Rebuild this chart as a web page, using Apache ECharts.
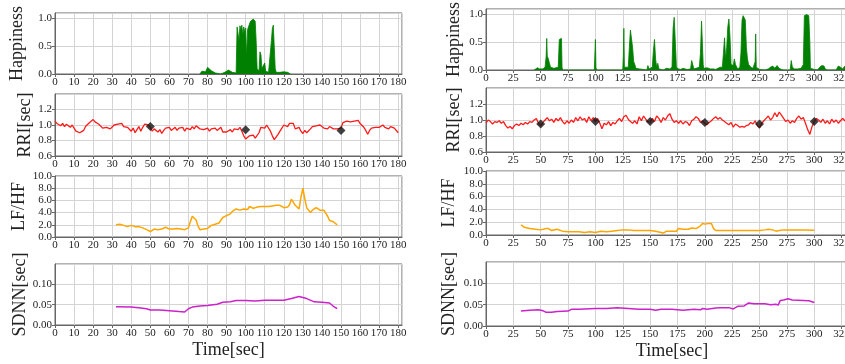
<!DOCTYPE html>
<html>
<head>
<meta charset="utf-8">
<script src="https://cdn.jsdelivr.net/npm/echarts@6/dist/echarts.min.js"></script>
<style>
html, body { margin: 0; padding: 0; background: #fff; overflow: hidden; }
/* the right column runs past the window edge, as in the source figure */
#main { width: 862px; height: 364px; }
</style>
</head>
<body>
<div id="main"></div>
<script>
// ---- data: left session (0-180 s) ----
const happinessLeft = [
  [76, 0], [76.5, 0.03], [77, 0.05], [78, 0.06], [79, 0.04], [80, 0.12], [80.5, 0.15], [81, 0.12],
  [82, 0.06], [83, 0.03], [84, 0.02], [85, 0], [87, 0], [87.5, 0.03], [88, 0.02], [89, 0.03],
  [90, 0.04], [91, 0.07], [92, 0.06], [93, 0.03], [94, 0.02], [95, 0.02], [95.5, 0.85], [96, 0.85],
  [96.5, 0.6], [97, 0.87], [97.5, 0.8], [98, 0.88], [98.5, 0.7], [99, 0.85], [99.5, 0.75], [100, 0.83],
  [100.5, 0.3], [101, 0.8], [101.5, 0.85], [102, 0.9], [102.5, 0.95], [103, 0.97], [103.5, 0.98],
  [104, 0.99], [104.5, 0.98], [105, 0.95], [105.5, 0.6], [106, 0.1], [107, 0.05], [107.5, 0.4],
  [108, 0.35], [108.5, 0.1], [109, 0.1], [110, 0.2], [110.5, 0.05], [111, 0.03], [112, 0.03],
  [113, 0.04], [113.5, 0.6], [114, 0.82], [114.5, 0.88], [115, 0.85], [115.5, 0.1], [116, 0.03],
  [117, 0.02], [118, 0.03], [119, 0.02], [120, 0.04], [121, 0.05], [122, 0.03], [123, 0.02], [123.5, 0]
];
// one value per second, t = 0..180
const rriLeft = [
  1.05, 1.02, 1.03, 0.99, 1.02, 0.98, 1.01, 1.02, 0.97, 1.00,
  0.96, 0.92, 0.94, 0.90, 0.88, 0.93, 0.98, 1.00, 1.03, 1.05,
  1.07, 1.04, 1.03, 1.01, 0.99, 0.96, 0.94, 0.97, 0.99, 0.95,
  0.97, 1.00, 0.98, 1.01, 0.99, 1.02, 0.98, 1.00, 0.97, 0.95,
  0.92, 0.96, 0.90, 0.94, 0.98, 0.92, 0.97, 1.01, 0.99, 1.00,
  0.97, 0.92, 0.95, 0.93, 0.91, 0.94, 0.89, 0.93, 0.96, 0.94,
  0.97, 0.93, 0.95, 0.97, 0.93, 0.96, 0.94, 0.97, 0.92, 0.96,
  0.97, 0.94, 0.98, 0.95, 0.99, 0.97, 0.95, 0.97, 0.94, 0.93,
  0.96, 0.92, 0.95, 0.93, 0.96, 0.93, 0.95, 0.97, 0.91, 0.93,
  0.91, 0.92, 0.94, 0.91, 0.95, 0.97, 0.94, 0.97, 0.92, 0.86,
  0.82, 0.84, 0.86, 0.84, 0.87, 0.83, 0.85, 0.90, 0.97, 0.99,
  0.96, 1.00, 0.98, 0.92, 0.86, 0.81, 0.82, 0.88, 0.92, 0.96,
  1.00, 1.01, 0.98, 1.02, 1.03, 1.02, 0.95, 0.93, 0.97, 0.92,
  0.89, 0.93, 0.90, 0.91, 0.95, 0.98, 0.96, 0.99, 0.97, 1.00,
  0.98, 0.96, 0.97, 0.95, 0.98, 0.96, 0.95, 0.97, 0.95, 0.94,
  0.96, 1.03, 1.02, 1.05, 1.06, 1.04, 1.06, 1.05, 1.03, 1.06,
  1.02, 1.01, 0.97, 0.93, 0.88, 0.93, 0.96, 0.94, 0.97, 0.98,
  0.97, 0.99, 1.00, 0.97, 0.99, 0.95, 0.98, 0.99, 0.96, 0.97,
  0.90
];
const markersLeft = [[50, 0.98], [100, 0.94], [150, 0.93]];
// one value per second, t = 32..148
const lfhfLeftStart = 32;
const lfhfLeft = [
  2.0, 2.3, 2.1, 1.9, 1.9, 2.0, 1.7, 1.8, 1.9, 1.8,
  1.7, 1.8, 1.7, 1.7, 1.5, 1.4, 1.2, 1.0, 0.9, 1.1,
  1.3, 1.3, 1.2, 1.3, 1.3, 1.4, 1.6, 1.6, 1.3, 1.2,
  1.3, 1.5, 1.4, 1.4, 1.3, 1.1, 1.2, 1.4, 1.5, 2.5,
  3.4, 3.5, 2.8, 1.8, 1.2, 1.1, 1.3, 1.3, 1.4, 1.6,
  1.9, 2.0, 2.1, 2.1, 2.3, 2.5, 3.2, 3.5, 3.5, 3.6,
  3.8, 4.2, 4.2, 4.6, 4.6, 4.4, 4.3, 4.6, 4.5, 4.5,
  5.0, 4.7, 4.7, 4.9, 4.9, 4.8, 5.0, 5.0, 5.0, 5.1,
  5.0, 4.9, 5.1, 5.2, 5.2, 5.3, 5.2, 5.0, 4.8, 4.6,
  4.9, 5.3, 6.2, 6.0, 5.2, 5.1, 4.6, 6.5, 8.0, 6.3,
  4.8, 4.6, 4.0, 4.4, 4.4, 4.8, 5.0, 4.4, 4.4, 4.4,
  4.3, 3.4, 2.7, 2.8, 2.5, 2.2, 2.0
];
const sdnnLeft = [
  [32, 0.045], [40, 0.044], [45, 0.042], [48, 0.040], [50, 0.037], [55, 0.037], [60, 0.035],
  [65, 0.033], [68, 0.032], [70, 0.040], [72, 0.044], [76, 0.047], [80, 0.048], [85, 0.051],
  [88, 0.056], [92, 0.057], [95, 0.060], [100, 0.060], [105, 0.059], [110, 0.061], [115, 0.061],
  [120, 0.061], [124, 0.065], [128, 0.070], [132, 0.065], [136, 0.057], [140, 0.056],
  [144, 0.054], [146, 0.046], [148, 0.040]
];

// ---- data: right session (0-330 s) ----
const happinessRight = [
  [44, 0], [45, 0.03], [47, 0.04], [49, 0.02], [50, 0.03], [52, 0.02], [53, 0], [54, 0.05],
  [55, 0.25], [55.5, 0.57], [56, 0.25], [57, 0.2], [58, 0.12], [59, 0.05], [60, 0.03], [62, 0.03],
  [64, 0.04], [66, 0.05], [67, 0.55], [68, 0.58], [69, 0.57], [69.5, 0.05], [70, 0], [99, 0],
  [100, 0.55], [100.5, 0.05], [101, 0], [125, 0], [125.5, 0.25], [126, 0.75], [126.5, 0.05],
  [127, 0.03], [130, 0.05], [131, 0.4], [132, 0.72], [133, 0.7], [134, 0.4], [135, 0.15],
  [136, 0.1], [137, 0.03], [138, 0.02], [140, 0.02], [141, 0], [147, 0], [148, 0.08], [149, 0.02],
  [150, 0.02], [152, 0.05], [153, 0.35], [154, 0.55], [155, 0.2], [156, 0.05], [157, 0.12],
  [158, 0.02], [159, 0], [162, 0], [163, 0.02], [165, 0.03], [168, 0.02], [170, 0.05], [171, 0.75],
  [172, 0.95], [173, 0.97], [173.5, 0.3], [174, 0.05], [176, 0.02], [178, 0.01], [180, 0.03],
  [182, 0.02], [184, 0.01], [187, 0.02], [188, 0.17], [189, 0.15], [190, 0.02], [192, 0.03],
  [195, 0.05], [196, 0.3], [197, 0.88], [198, 0.85], [198.5, 0.1], [199, 0.03], [202, 0.04],
  [205, 0.02], [208, 0.02], [210, 0.01], [212, 0.03], [214, 0.05], [216, 0.05], [217, 0.3],
  [218, 0.58], [219, 0.2], [220, 0.4], [221, 0.78], [222, 0.92], [223, 0.6], [224, 0.1],
  [226, 0.08], [227, 0.2], [228, 0.1], [230, 0.02], [232, 0.05], [233, 0.3], [234, 0.9],
  [235, 0.98], [236, 0.95], [237, 0.9], [238, 0.4], [239, 0.2], [240, 0.1], [242, 0.05],
  [244, 0.03], [246, 0.15], [246.5, 0.65], [247, 0.05], [248, 0.02], [250, 0.01], [255, 0],
  [258, 0.02], [260, 0.05], [262, 0.07], [264, 0.03], [266, 0.08], [268, 0.03], [270, 0.01],
  [272, 0], [278, 0], [279, 0.17], [280, 0.05], [282, 0.02], [285, 0.02], [288, 0.03], [290, 0.1],
  [291, 0.98], [292, 1.0], [293, 1.0], [294, 0.99], [295, 0.98], [296, 0.5], [296.5, 0.03],
  [298, 0.02], [300, 0.01], [303, 0], [305, 0.05], [307, 0.08], [309, 0.07], [310, 0.02],
  [312, 0], [320, 0], [322, 0.07], [324, 0.05], [326, 0.02], [328, 0.07], [330, 0.03]
];
// one value every 2 s, t = 0..330
const rriRight = [
  0.96, 1.00, 0.98, 0.95, 0.98, 0.97, 0.99, 0.96, 0.98, 0.93,
  0.90, 0.92, 0.89, 0.93, 0.95, 0.93, 0.96, 0.94, 0.97, 0.95,
  0.98, 0.97, 1.00, 1.02, 0.96, 0.93, 0.97, 1.00, 1.03, 0.99,
  1.01, 0.97, 1.02, 0.99, 1.03, 0.98, 0.95, 0.99, 0.96, 1.00,
  0.97, 1.03, 0.99, 1.04, 1.00, 1.02, 0.97, 1.04, 0.99, 1.03,
  0.98, 1.02, 0.96, 0.89, 0.96, 0.94, 0.98, 0.93, 0.97, 0.95,
  0.99, 1.02, 0.98, 1.04, 1.06, 1.01, 0.98, 0.96, 0.99, 0.95,
  1.04, 0.99, 1.05, 1.01, 0.98, 0.97, 1.02, 0.98, 1.05, 1.02,
  0.97, 1.03, 1.00, 1.05, 1.08, 1.01, 0.97, 0.99, 0.96, 0.99,
  0.95, 0.98, 0.97, 0.93, 0.99, 1.01, 1.04, 1.02, 0.97, 0.99,
  0.96, 0.94, 0.97, 0.99, 1.02, 1.04, 1.01, 1.03, 1.00, 0.98,
  0.96, 0.94, 0.97, 0.91, 0.95, 0.93, 0.91, 0.92, 0.91, 0.93,
  0.94, 0.97, 0.95, 0.99, 0.93, 0.90, 0.96, 0.99, 1.02, 1.05,
  1.00, 1.03, 1.09, 1.04, 1.10, 1.06, 1.02, 0.98, 1.00, 0.96,
  0.99, 0.97, 1.02, 1.05, 1.01, 1.03, 0.96, 0.88, 0.82, 0.92,
  0.98, 1.02, 1.00, 0.97, 1.01, 0.96, 0.99, 0.95, 1.01, 0.97,
  1.00, 0.96, 0.99, 1.02, 0.99, 0.97
];
const markersRight = [[50, 0.95], [100, 0.98], [150, 0.98], [200, 0.97], [250, 0.95], [300, 0.98]];
const lfhfRight = [
  [32, 1.6], [33, 1.3], [35, 1.2], [40, 1.0], [45, 0.9], [50, 0.8], [55, 1.0], [57, 1.0], [60, 0.7],
  [65, 0.9], [70, 0.6], [75, 0.5], [80, 0.5], [85, 0.5], [90, 0.4], [95, 0.5], [100, 0.4],
  [105, 0.6], [110, 0.5], [115, 0.6], [120, 0.7], [125, 0.8], [130, 0.8], [135, 0.7], [140, 0.7],
  [145, 0.7], [150, 0.7], [155, 0.6], [160, 0.4], [162, 0.3], [165, 0.6], [170, 0.6], [174, 0.6],
  [176, 1.0], [180, 0.9], [185, 0.9], [188, 1.1], [192, 1.0], [195, 1.3], [198, 1.8], [200, 1.7],
  [203, 1.8], [206, 1.8], [208, 1.0], [210, 0.7], [215, 0.7], [220, 0.7], [230, 0.7], [240, 0.7],
  [250, 0.7], [255, 0.8], [258, 0.9], [262, 0.8], [265, 0.6], [268, 0.7], [272, 0.8], [280, 0.8],
  [290, 0.8], [300, 0.75]
];
const sdnnRight = [
  [32, 0.035], [40, 0.037], [48, 0.038], [52, 0.036], [55, 0.032], [60, 0.032], [65, 0.034],
  [75, 0.035], [78, 0.039], [85, 0.039], [100, 0.041], [110, 0.041], [120, 0.043], [130, 0.041],
  [140, 0.039], [150, 0.039], [155, 0.037], [160, 0.039], [170, 0.039], [180, 0.037], [190, 0.039],
  [196, 0.038], [198, 0.041], [202, 0.039], [210, 0.042], [215, 0.043], [222, 0.043], [226, 0.040],
  [230, 0.046], [236, 0.047], [240, 0.054], [245, 0.052], [255, 0.052], [260, 0.050], [265, 0.051],
  [267, 0.049], [269, 0.060], [272, 0.061], [276, 0.064], [280, 0.061], [290, 0.060], [295, 0.059],
  [300, 0.055]
];

const rowNames = ["Happiness", "RRI[sec]", "LF/HF", "SDNN[sec]"];

// ---- layout ----
const FONT = "'Liberation Serif', 'Times New Roman', serif";
const gridBox = [
  // left column
  { left: 55, width: 347, top: 13, height: 61 },
  { left: 55, width: 347, top: 94, height: 62 },
  { left: 55, width: 347, top: 176, height: 61 },
  { left: 55, width: 347, top: 264, height: 61 },
  // right column (runs past the right edge)
  { left: 486, width: 372, top: 7, height: 63 },
  { left: 486, width: 372, top: 88, height: 64 },
  { left: 486, width: 372, top: 171, height: 64 },
  { left: 486, width: 372, top: 262, height: 64 },
];
const yScale = [
  { min: 0, max: 1.1, interval: 0.5, dec: 1 },
  { min: 0.6, max: 1.4, interval: 0.2, dec: 1 },
  { min: 0, max: 10, interval: 2, dec: 1 },
  { min: 0, max: 0.15, interval: 0.05, dec: 2 },
];
const nameGapLeft = [29, 21, 27, 26];
const nameGapRight = [23, 23, 28, 28];

const chart = echarts.init(document.getElementById("main"));

const grid = gridBox.map((g) => ({
  ...g,
  show: true,
  borderColor: "#666",
  borderWidth: 1,
  containLabel: false,
}));

const xAxis = gridBox.map((g, i) => {
  const left = i < 4;
  const bottom = i % 4 === 3;
  return {
    type: "value",
    gridIndex: i,
    min: 0,
    max: left ? 182 : 340,
    interval: left ? 10 : 25,
    name: bottom ? "Time[sec]" : "",
    nameLocation: "middle",
    nameGap: 16,
    nameTextStyle: { fontFamily: FONT, fontSize: 18, color: "#222" },
    axisLine: { show: true, lineStyle: { color: "#666" } },
    axisTick: { show: true, length: 3, lineStyle: { color: "#666" } },
    axisLabel: {
      fontFamily: FONT,
      fontSize: 11,
      color: "#222",
      margin: 3,
      showMaxLabel: false,
    },
    splitLine: { show: true, lineStyle: { color: "#d4d4d4", width: 1 } },
  };
});

const yAxis = gridBox.map((g, i) => {
  const s = yScale[i % 4];
  return {
    type: "value",
    gridIndex: i,
    min: s.min,
    max: s.max,
    interval: s.interval,
    name: rowNames[i % 4],
    nameLocation: "middle",
    nameRotate: 90,
    nameGap: i < 4 ? nameGapLeft[i % 4] : nameGapRight[i % 4],
    nameTextStyle: { fontFamily: FONT, fontSize: 18, color: "#222" },
    axisLine: { show: true, lineStyle: { color: "#666" } },
    axisTick: { show: true, length: 3, lineStyle: { color: "#666" } },
    axisLabel: {
      fontFamily: FONT,
      fontSize: 11,
      color: "#222",
      margin: 3,
      showMaxLabel: i % 4 === 2,
      formatter: (v) => v.toFixed(s.dec),
    },
    splitLine: { show: true, lineStyle: { color: "#d4d4d4", width: 1 } },
  };
});

const lineSeries = (idx, data, color, width) => ({
  type: "line",
  xAxisIndex: idx,
  yAxisIndex: idx,
  data: data,
  showSymbol: false,
  lineStyle: { color: color, width: width },
  itemStyle: { color: color },
  z: 3,
});

const happySeries = (idx, data) => ({
  type: "line",
  xAxisIndex: idx,
  yAxisIndex: idx,
  data: data,
  showSymbol: false,
  lineStyle: { color: "#008000", width: 0.8 },
  areaStyle: { color: "#008000", opacity: 1 },
  z: 3,
});

const markerSeries = (idx, data) => ({
  type: "scatter",
  xAxisIndex: idx,
  yAxisIndex: idx,
  data: data,
  symbol: "diamond",
  symbolSize: 9,
  itemStyle: { color: "#111" },
  z: 5,
});

const option = {
  animation: false,
  backgroundColor: "#fff",
  grid: grid,
  xAxis: xAxis,
  yAxis: yAxis,
  series: [
    happySeries(0, happinessLeft),
    lineSeries(1, rriLeft.map((v, k) => [k, v]), "#ff1a1a", 1.3),
    markerSeries(1, markersLeft),
    lineSeries(2, lfhfLeft.map((v, k) => [lfhfLeftStart + k, v]), "#ffa500", 1.5),
    lineSeries(3, sdnnLeft, "#cc22cc", 1.5),
    happySeries(4, happinessRight),
    lineSeries(5, rriRight.map((v, k) => [k * 2, v]), "#ff1a1a", 1.3),
    markerSeries(5, markersRight),
    lineSeries(6, lfhfRight, "#ffa500", 1.5),
    lineSeries(7, sdnnRight, "#cc22cc", 1.5),
  ],
};

option && chart.setOption(option);
</script>
</body>
</html>
